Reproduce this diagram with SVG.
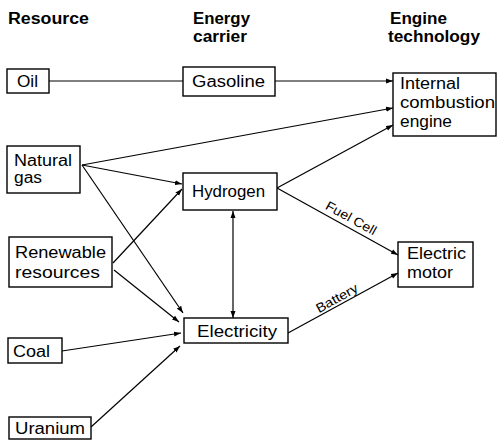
<svg xmlns="http://www.w3.org/2000/svg" width="497" height="440" viewBox="0 0 497 440">
<defs>
<marker id="ah" markerUnits="userSpaceOnUse" markerWidth="8" markerHeight="6" refX="7" refY="3" orient="auto-start-reverse">
<path d="M0,0.5 L7,3 L0,5.5 z" fill="#000"/>
</marker>
<style>
.box{fill:#fff;stroke:#000;stroke-width:1.4}
.t{font-family:"Liberation Sans",Arial,sans-serif;font-size:16px;fill:#000}
.h{font-family:"Liberation Sans",Arial,sans-serif;font-size:16px;font-weight:bold;fill:#000}
.l{font-family:"Liberation Sans",Arial,sans-serif;font-size:13px;fill:#000}
.c{fill:none;stroke:#000;stroke-width:1.2}
.a{marker-end:url(#ah)}
</style>
</defs>
<rect width="497" height="440" fill="#fff"/>
<g id="headers">
<text class="h" x="8" y="24" textLength="81" lengthAdjust="spacingAndGlyphs">Resource</text>
<text class="h" x="193" y="24" textLength="57" lengthAdjust="spacingAndGlyphs">Energy</text>
<text class="h" x="193" y="42" textLength="54" lengthAdjust="spacingAndGlyphs">carrier</text>
<text class="h" x="390" y="24" textLength="57" lengthAdjust="spacingAndGlyphs">Engine</text>
<text class="h" x="388" y="42" textLength="92" lengthAdjust="spacingAndGlyphs">technology</text>
</g>
<g id="connectors">
<line class="c" x1="49" y1="81" x2="183" y2="81"/>
<line class="c a" x1="275" y1="81" x2="393" y2="81"/>
<line class="c a" x1="82" y1="165" x2="393" y2="108"/>
<line class="c a" x1="82" y1="165" x2="182" y2="184"/>
<line class="c a" x1="82" y1="165" x2="183" y2="313"/>
<line class="c a" x1="113" y1="263" x2="182" y2="189"/>
<line class="c a" x1="114" y1="270" x2="179" y2="322"/>
<line class="c a" x1="62" y1="351" x2="181" y2="333"/>
<line class="c a" x1="91" y1="427" x2="180" y2="346"/>
<line class="c a" x1="233" y1="211" x2="233" y2="318" marker-start="url(#ah)"/>
<line class="c a" x1="277" y1="188" x2="393" y2="125"/>
<line class="c a" x1="277" y1="188" x2="398" y2="255"/>
<line class="c a" x1="288" y1="333" x2="398" y2="273"/>
<text class="l" x="349" y="222" text-anchor="middle" textLength="56" lengthAdjust="spacingAndGlyphs" transform="rotate(29 349 222)">Fuel Cell</text>
<text class="l" x="339" y="302" text-anchor="middle" textLength="46" lengthAdjust="spacingAndGlyphs" transform="rotate(-29 339 302)">Battery</text>
</g>
<g id="oil">
<rect class="box" x="7" y="69" width="42" height="24"/>
<text class="t" x="17" y="87" textLength="21" lengthAdjust="spacingAndGlyphs">Oil</text>
</g>
<g id="gasoline">
<rect class="box" x="183" y="67" width="92" height="29"/>
<text class="t" x="192" y="87" textLength="73" lengthAdjust="spacingAndGlyphs">Gasoline</text>
</g>
<g id="ice">
<rect class="box" x="393" y="73" width="103" height="63"/>
<text class="t" x="400" y="89" textLength="60" lengthAdjust="spacingAndGlyphs">Internal</text>
<text class="t" x="400" y="108" textLength="95" lengthAdjust="spacingAndGlyphs">combustion</text>
<text class="t" x="400" y="127" textLength="52" lengthAdjust="spacingAndGlyphs">engine</text>
</g>
<g id="natural-gas">
<rect class="box" x="7" y="146" width="73" height="47"/>
<text class="t" x="14" y="166" textLength="58" lengthAdjust="spacingAndGlyphs">Natural</text>
<text class="t" x="14" y="183" textLength="28" lengthAdjust="spacingAndGlyphs">gas</text>
</g>
<g id="hydrogen">
<rect class="box" x="183" y="173" width="94" height="37"/>
<text class="t" x="192" y="197" textLength="73" lengthAdjust="spacingAndGlyphs">Hydrogen</text>
</g>
<g id="renewable">
<rect class="box" x="9" y="237" width="103" height="50"/>
<text class="t" x="15" y="258" textLength="91" lengthAdjust="spacingAndGlyphs">Renewable</text>
<text class="t" x="15" y="278" textLength="85" lengthAdjust="spacingAndGlyphs">resources</text>
</g>
<g id="electric-motor">
<rect class="box" x="398" y="242" width="75" height="45"/>
<text class="t" x="407" y="259" textLength="59" lengthAdjust="spacingAndGlyphs">Electric</text>
<text class="t" x="407" y="278" textLength="46" lengthAdjust="spacingAndGlyphs">motor</text>
</g>
<g id="electricity">
<rect class="box" x="184" y="318" width="104" height="25"/>
<text class="t" x="197" y="337" textLength="80" lengthAdjust="spacingAndGlyphs">Electricity</text>
</g>
<g id="coal">
<rect class="box" x="8" y="338" width="54" height="25"/>
<text class="t" x="13" y="357" textLength="37" lengthAdjust="spacingAndGlyphs">Coal</text>
</g>
<g id="uranium">
<rect class="box" x="9" y="417" width="82" height="22"/>
<text class="t" x="15" y="434" textLength="70" lengthAdjust="spacingAndGlyphs">Uranium</text>
</g>
</svg>
